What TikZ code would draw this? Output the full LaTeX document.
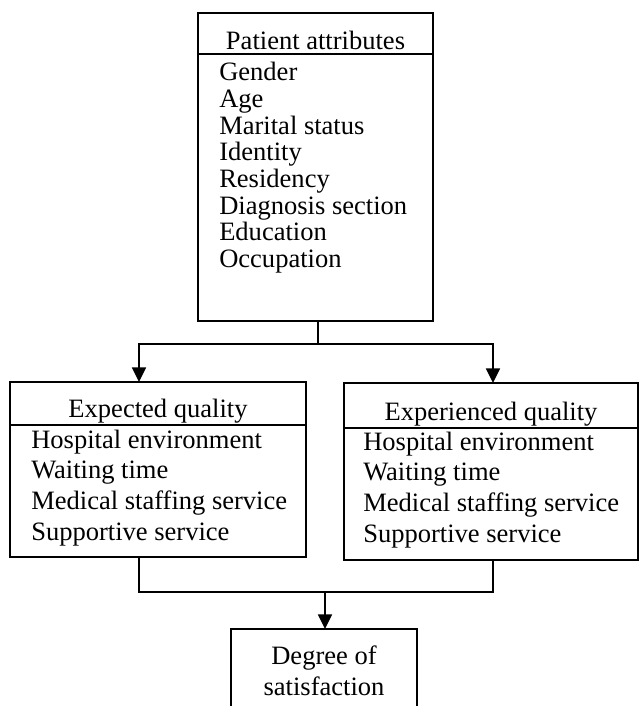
\documentclass[tikz,border=0pt]{standalone}
\usepackage{fontspec}
\setmainfont{Liberation Serif}
\usetikzlibrary{arrows.meta,calc}

\tikzset{every node/.style={font=\fontsize{19.9pt}{24pt}\selectfont, inner sep=0pt}}
\tikzset{frame/.style={draw, line width=1.2pt, rectangle, outer sep=0pt, anchor=north west}}
\tikzstyle{item}=[anchor=base west]
\tikzstyle{heading}=[anchor=base]
\tikzstyle{link}=[line width=1.2pt]
\tikzstyle{arrow}=[link, -{Triangle[length=11pt,width=10.5pt]}]

\begin{document}
\begin{tikzpicture}[x=0.75pt, y=-0.75pt]
\useasboundingbox (0,0) rectangle (640,706);

% patient attributes
\node [frame, minimum width=176.25pt, minimum height=231pt] (attr) at (198,13) {};
\draw [link] ($(attr.north west)+(0,41)$) -- ($(attr.north east)+(0,41)$);
\node [heading] (attrhead) at ($(attr.north)+(0,37)$) {Patient attributes};
\foreach \txt [count=\i] in {Gender, Age, Marital status, Identity, Residency, Diagnosis section, Education, Occupation}
    \node [item] (attr\i) at ($(attr.north west)+(21,68+26.6*\i-26.6)$) {\txt};

% expected quality
\node [frame, minimum width=222pt, minimum height=131.25pt] (expq) at (10,382) {};
\draw [link] ($(expq.north west)+(0,43)$) -- ($(expq.north east)+(0,43)$);
\node [heading] (expqhead) at ($(expq.north)+(0,35)$) {Expected quality};
\foreach \txt [count=\i] in {Hospital environment, Waiting time, Medical staffing service, Supportive service}
    \node [item] (expq\i) at ($(expq.north west)+(21,66+30.7*\i-30.7)$) {\txt};

% experienced quality
\node [frame, minimum width=220.5pt, minimum height=132.75pt] (expr) at (344,383) {};
\draw [link] ($(expr.north west)+(0,45)$) -- ($(expr.north east)+(0,45)$);
\node [heading] (exprhead) at ($(expr.north)+(0,37)$) {Experienced quality};
\foreach \txt [count=\i] in {Hospital environment, Waiting time, Medical staffing service, Supportive service}
    \node [item] (expr\i) at ($(expr.north west)+(19,67+30.7*\i-30.7)$) {\txt};

% satisfaction
\node [frame, minimum width=139.5pt, minimum height=75pt] (satis) at (231,629) {};
\node [heading] (satis1) at ($(satis.north)+(0,35)$) {Degree of};
\node [heading] (satis2) at ($(satis.north)+(0,66)$) {satisfaction};

% connectors
\coordinate (fork) at (318,344);
\coordinate (expqin) at ($(expq.north west)+(129,0)$);
\coordinate (exprin) at ($(expr.north west)+(149,0)$);
\draw [link] (attr.south -| fork) -- (fork);
\draw [arrow] (fork) -| (expqin);
\draw [arrow] (fork) -| (exprin);

\coordinate (join) at (325,592);
\coordinate (expqout) at ($(expq.south west)+(129,0)$);
\coordinate (exprout) at ($(expr.south west)+(149,0)$);
\draw [link] (expqout) -- (expqout |- join) -- (exprout |- join) -- (exprout);
\draw [arrow] (join) -- (satis.north -| join);
\end{tikzpicture}
\end{document}
